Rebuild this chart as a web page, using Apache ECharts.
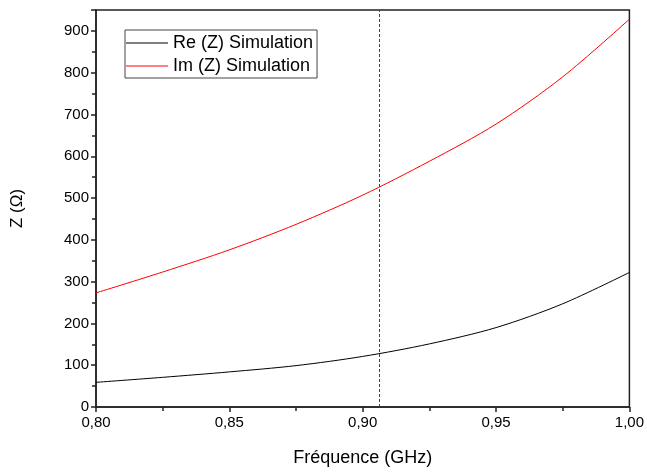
<!DOCTYPE html>
<html><head><meta charset="utf-8">
<script src="https://cdn.jsdelivr.net/npm/echarts@6/dist/echarts.min.js"></script>
<style>html,body{margin:0;padding:0;background:#fff}#c{width:647px;height:472px}</style>
</head><body><div id="c"></div>
<script>
const freq = [0.800, 0.825, 0.850, 0.875, 0.900, 0.925, 0.950, 0.975, 1.000];
const reZ  = [59, 71, 84, 99, 121, 151, 190, 247, 322];
const imZ  = [273, 323, 376, 437, 507, 588, 677, 790, 928];
const markerFreq = [0.9063];
const seriesNames = ['Re (Z) Simulation', 'Im (Z) Simulation'];

const font = 'Liberation Sans, Arial, sans-serif';
const chart = echarts.init(document.getElementById('c'), null, {renderer: 'canvas'});
chart.setOption({
  animation: false,
  backgroundColor: '#fff',
  grid: {left: 96, right: 15, top: 10, bottom: 63, show: true, borderColor: '#222', borderWidth: 1.5},
  legend: {
    left: 125, top: 30, orient: 'vertical',
    borderColor: '#444', borderWidth: 1, padding: [4, 4, 3, 1],
    icon: 'rect', itemWidth: 42, itemHeight: 1.2, itemGap: 5,
    textStyle: {fontFamily: font, fontSize: 18, color: '#000', lineHeight: 18},
    data: seriesNames
  },
  xAxis: {
    type: 'value', min: 0.8, max: 1.0, interval: 0.05,
    name: 'Fréquence (GHz)', nameLocation: 'middle', nameGap: 42,
    nameTextStyle: {fontFamily: font, fontSize: 18, color: '#000'},
    axisLine: {lineStyle: {color: '#222', width: 1.5}},
    axisTick: {length: 5, lineStyle: {color: '#222', width: 1.5}},
    minorTick: {show: true, splitNumber: 2, length: 4, lineStyle: {color: '#222', width: 1.5}},
    splitLine: {show: false},
    axisLabel: {fontFamily: font, fontSize: 15, color: '#000', margin: 8,
      formatter: v => v.toFixed(2).replace('.', ',')}
  },
  yAxis: {
    type: 'value', min: 0, max: 950, interval: 100,
    name: 'Z (\u03A9)', nameLocation: 'middle', nameGap: 70,
    nameTextStyle: {fontFamily: font, fontSize: 17, color: '#000'},
    axisLine: {show: true, lineStyle: {color: '#222', width: 1.5}},
    axisTick: {show: true, length: 5, lineStyle: {color: '#222', width: 1.5}},
    minorTick: {show: true, splitNumber: 2, length: 4, lineStyle: {color: '#222', width: 1.5}},
    splitLine: {show: false},
    axisLabel: {fontFamily: font, fontSize: 15, color: '#000', margin: 7, showMaxLabel: false}
  },
  series: [
    {
      name: seriesNames[0], type: 'line', symbol: 'none', smooth: 0.3,
      data: freq.map((f, i) => [f, reZ[i]]),
      lineStyle: {color: '#000', width: 1}, itemStyle: {color: '#000'},
      markLine: {
        symbol: 'none', silent: true, precision: 4, label: {show: false},
        lineStyle: {type: [3, 2], color: '#444', width: 1},
        data: markerFreq.map(v => ({xAxis: v}))
      }
    },
    {
      name: seriesNames[1], type: 'line', symbol: 'none', smooth: 0.3,
      data: freq.map((f, i) => [f, imZ[i]]),
      lineStyle: {color: '#ff0000', width: 1}, itemStyle: {color: '#ff0000'}
    }
  ]
});
</script></body></html>
